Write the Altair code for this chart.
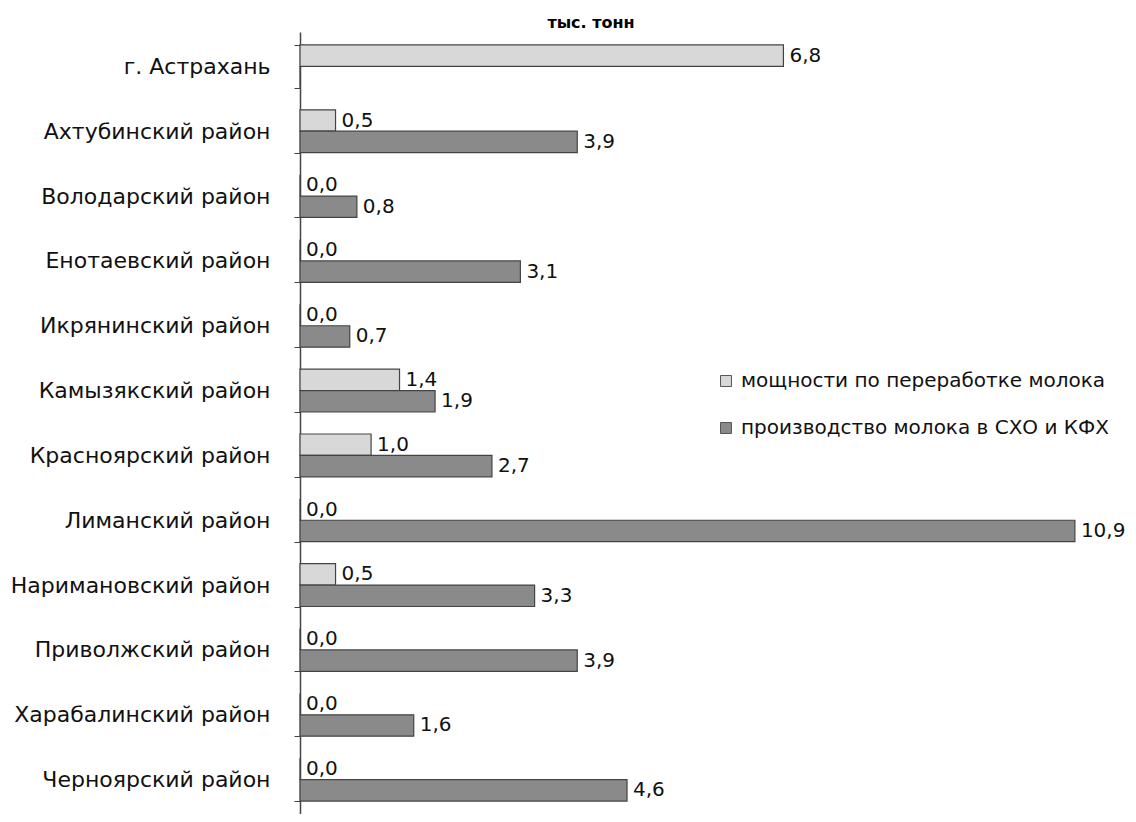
import altair as alt
import pandas as pd

categories = [
    "г. Астрахань", "Ахтубинский район", "Володарский район", "Енотаевский район",
    "Икрянинский район", "Камызякский район", "Красноярский район", "Лиманский район",
    "Наримановский район", "Приволжский район", "Харабалинский район", "Черноярский район",
]
series_names = ["мощности по переработке молока", "производство молока в СХО и КФХ"]
capacity = [6.8, 0.5, 0.0, 0.0, 0.0, 1.4, 1.0, 0.0, 0.5, 0.0, 0.0, 0.0]
production = [0.0, 3.9, 0.8, 3.1, 0.7, 1.9, 2.7, 10.9, 3.3, 3.9, 1.6, 4.6]
capacity_shown = [True] * 12
production_shown = [False] + [True] * 11

rows = []
for i, c in enumerate(categories):
    rows.append({"district": c, "series": series_names[0], "value": capacity[i], "show": capacity_shown[i]})
    rows.append({"district": c, "series": series_names[1], "value": production[i], "show": production_shown[i]})
df = pd.DataFrame(rows)

FONT = "DejaVu Sans"

base = alt.Chart(df).encode(
    y=alt.Y(
        "district:N",
        sort=categories,
        scale=alt.Scale(paddingInner=0.34, paddingOuter=0.2),
        axis=alt.Axis(
            title=None, labelFontSize=22, labelFont=FONT, labelColor="#111",
            labelPadding=24, labelLimit=400, tickBand="extent", tickSize=6,
            tickColor="#444", domainColor="#444", domainWidth=1.5,
        ),
    ),
    yOffset=alt.YOffset("series:N", sort=series_names, scale=alt.Scale(paddingInner=0)),
    x=alt.X("value:Q", scale=alt.Scale(domain=[0, 11]), axis=None),
)

bars = base.mark_bar(stroke="#444", strokeWidth=1.2).encode(
    color=alt.Color(
        "series:N",
        sort=series_names,
        scale=alt.Scale(domain=series_names, range=["#d8d8d8", "#8a8a8a"]),
        legend=alt.Legend(
            title=None, orient="none", legendX=416, legendY=339,
            symbolType="square", symbolSize=120, symbolStrokeColor="#555", symbolStrokeWidth=1,
            labelFontSize=20, labelFont=FONT, labelColor="#111", rowPadding=27, labelLimit=500,
            labelOffset=5,
        ),
    )
)

labels = base.transform_filter("datum.show").transform_calculate(
    lbl="replace(format(datum.value, '.1f'), '.', ',')"
).mark_text(align="left", baseline="middle", dx=6, fontSize=20, font=FONT, color="#111").encode(
    text="lbl:N"
)

chart = (
    alt.layer(bars, labels)
    .properties(
        width=782,
        height=782,
        title=alt.TitleParams("тыс. тонн", fontSize=16, font=FONT, fontWeight="bold", dx=-100, dy=14, offset=4),
        autosize=alt.AutoSizeParams(type="none"),
        padding={"left": 292, "top": 24, "right": 46, "bottom": 0},
        background="white",
    )
    .configure_view(strokeWidth=0, strokeOpacity=0)
)

chart.save("out.html", embed_options={"renderer": "svg", "actions": False})
